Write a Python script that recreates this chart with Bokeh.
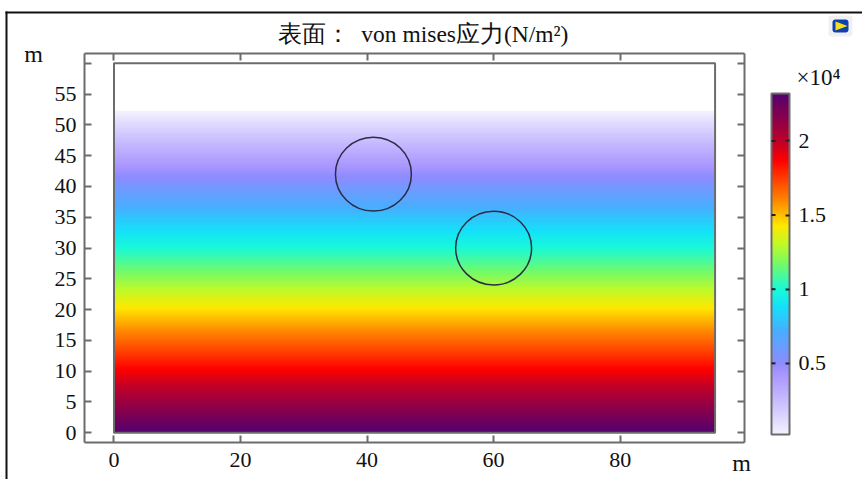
import numpy as np
from bokeh.embed import file_html
from bokeh.resources import INLINE
from bokeh.plotting import figure
from bokeh.layouts import column
from bokeh.models import (Range1d, LinearAxis, FixedTicker, LinearColorMapper, ColorBar,
                          Label, BoxAnnotation, PolyAnnotation)

# Chart values
title_text = "表面：\u00a0\u00a0von mises应力(N/m²)"
x_ticks = [0, 20, 40, 60, 80]
y_ticks = [0, 5, 10, 15, 20, 25, 30, 35, 40, 45, 50, 55, 60]
domain_x = [0, 95]
domain_y = [0, 60]
circle_x = [41, 60]
circle_y = [42, 30]
circle_d = [12, 12]
field_depth = [0, 5, 10, 15, 20, 25, 30, 35, 40, 45, 50, 52.3]
field_value = [2.32, 2.10, 1.88, 1.66, 1.44, 1.22, 1.00, 0.79, 0.57, 0.35, 0.13, 0.02]
cb_ticks = [0.5, 1, 1.5, 2]
cb_labels = {0.5: "0.5", 1: "1", 1.5: "1.5", 2: "2"}
cb_low, cb_high = 0.02, 2.32
stop_values = [0.02, 0.20, 0.42, 0.50, 0.72, 0.88, 1.00, 1.16, 1.30, 1.43, 1.60, 1.87, 2.00, 2.32]
stop_colors = [(243, 241, 255), (208, 198, 255), (170, 150, 255), (140, 140, 255), (70, 175, 255),
               (20, 225, 250), (25, 250, 215), (110, 250, 110), (190, 250, 40), (255, 232, 0),
               (255, 135, 0), (255, 0, 0), (190, 0, 40), (85, 0, 110)]

serif = "Liberation Serif"
gray = "#6c6c6c"
W, H = 862, 479

t = np.linspace(cb_low, cb_high, 256)
rgb = np.array(stop_colors, dtype=float)
palette = ["#%02x%02x%02x" % tuple(int(round(np.interp(v, stop_values, rgb[:, i]))) for i in range(3)) for v in t]
mapper = LinearColorMapper(palette=palette, low=cb_low, high=cb_high)
rows = np.linspace(field_depth[0], field_depth[-1], 322)
field = np.interp(rows, field_depth, field_value).reshape(-1, 1)

p = figure(width=W, height=H, output_backend="svg", toolbar_location=None,
           x_range=Range1d(-4.66, 99.65), y_range=Range1d(-1.58, 61.6),
           min_border_left=84, min_border_right=W - 744, min_border_top=53, min_border_bottom=H - 442,
           margin=0, outline_line_color=None, background_fill_color="white", frame_align=False)
p.grid.visible = False

def style(ax, labels=True):
    ax.axis_line_color = gray
    ax.axis_line_width = 2
    ax.major_tick_line_color = gray
    ax.major_tick_line_width = 2
    ax.major_tick_in = 7
    ax.major_tick_out = 0
    ax.minor_tick_line_color = None
    if labels:
        ax.major_label_text_font = serif
        ax.major_label_text_font_size = "22px"
        ax.major_label_text_color = "#111111"
    else:
        ax.major_label_text_font_size = "0px"
        ax.major_label_text_color = None
        ax.major_label_standoff = 0

style(p.xaxis[0])
style(p.yaxis[0])
p.xaxis[0].ticker = FixedTicker(ticks=x_ticks)
p.yaxis[0].ticker = FixedTicker(ticks=y_ticks)
p.yaxis[0].major_label_overrides = {60: ""}
p.xaxis[0].major_label_standoff = 10
p.yaxis[0].major_label_standoff = 8
top = LinearAxis(ticker=FixedTicker(ticks=x_ticks)); style(top, False)
right = LinearAxis(ticker=FixedTicker(ticks=y_ticks)); style(right, False)
p.add_layout(top, "above")
p.add_layout(right, "right")

p.image(image=[field], x=domain_x[0], y=field_depth[0], dw=domain_x[1] - domain_x[0],
        dh=field_depth[-1] - field_depth[0], color_mapper=mapper)
p.quad(left=[domain_x[0]], right=[domain_x[1]], bottom=[domain_y[0]], top=[domain_y[1]],
       fill_color=None, line_color=gray, line_width=2)
p.ellipse(x=circle_x, y=circle_y, width=circle_d, height=circle_d, fill_color=None,
          line_color="#2c2c44", line_width=1.5)

bar_top, bar_bot = 93, 434
cb = ColorBar(color_mapper=mapper, ticker=FixedTicker(ticks=cb_ticks), major_label_overrides=cb_labels,
              width=18, height=bar_bot - bar_top, location=(771 - 84, 442 - bar_bot), padding=0, margin=0,
              bar_line_color=gray, bar_line_width=2, border_line_color=None, background_fill_color=None,
              major_tick_in=4, major_tick_line_color="#222222", major_tick_line_width=2,
              minor_tick_line_color=None, major_label_text_font=serif, major_label_text_font_size="22px",
              major_label_text_color="#111111", label_standoff=9)
p.add_layout(cb, "center")

# Transparent page-sized overlay: texts and page furniture placed in page pixels
q = figure(width=W, height=H, output_backend="svg", toolbar_location=None,
           x_range=Range1d(0, W), y_range=Range1d(H, 0), min_border=0, margin=(-H, 0, 0, 0),
           outline_line_color=None, background_fill_color=None, border_fill_color=None,
           x_axis_location=None, y_axis_location=None, frame_align=False)
q.grid.visible = False

def text(x, y, s, size, align="left", base="middle"):
    q.add_layout(Label(x=x, y=y, text=s, text_font=serif, text_font_size=size, text_align=align,
                       text_baseline=base, text_color="#111111"))

def box(l, r, t_, b, color, radius=0):
    q.add_layout(BoxAnnotation(left=l, right=r, top=t_, bottom=b, fill_color=color, fill_alpha=1,
                               line_color=None, border_radius=radius))

text(422.5, 33, title_text, "23.5px", "center")
text(33, 53, "m", "24px", "center")
text(741, 462, "m", "24px", "center")
text(796, 77, "×10⁴", "23px")

for v in cb_ticks:
    yy = bar_bot - (v - cb_low) / (cb_high - cb_low) * (bar_bot - bar_top)
    box(771, 775, yy - 1, yy + 1, "#222222")

box(5, 7, 11, H, "#111111")
box(5, W, 11, 13, "#111111")

box(828, 852, 15, 36, "#f0f0f0", 3)
box(832, 848, 19, 32, "#1040b0", 3)
q.add_layout(PolyAnnotation(xs=[835, 847, 835], ys=[21, 25.5, 30], fill_color="#f5e020", fill_alpha=1, line_color=None))

open("out.html", "w").write(file_html(column(p, q, spacing=0, margin=0), INLINE))
